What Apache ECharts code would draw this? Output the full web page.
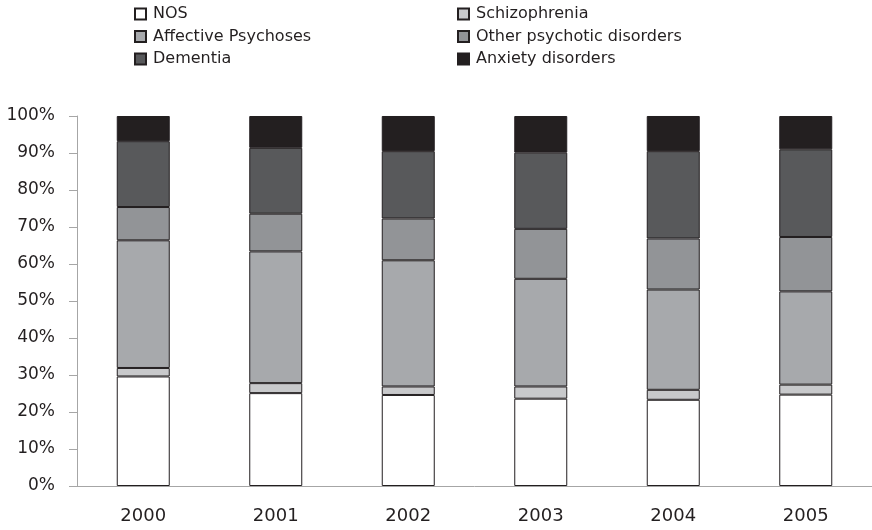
<!DOCTYPE html>
<html>
<head>
<meta charset="utf-8">
<script src="https://cdn.jsdelivr.net/npm/echarts@6/dist/echarts.min.js"></script>
<style>
  * { margin: 0; padding: 0; }
  #chart { width: 872px; height: 530px; background: #fff; }
</style>
</head>
<body>
<div id="chart"></div>
<script>
const years = ["2000", "2001", "2002", "2003", "2004", "2005"];
const nos = [29.6, 25.1, 24.6, 23.6, 23.3, 24.7];
const schizophrenia = [2.3, 2.7, 2.3, 3.3, 2.7, 2.7];
const affective = [34.5, 35.6, 34.1, 29.1, 27.1, 25.2];
const otherPsychotic = [9.0, 10.2, 11.3, 13.5, 13.8, 14.7];
const dementia = [17.8, 17.8, 18.2, 20.6, 23.6, 23.7];
const anxiety = [6.8, 8.6, 9.5, 9.9, 9.5, 9.0];

const font = "DejaVu Sans";
const edge = "#231f20";

const seriesDefs = [
  { name: "NOS", data: nos, color: "#ffffff" },
  { name: "Schizophrenia", data: schizophrenia, color: "#c8c9cb" },
  { name: "Affective Psychoses", data: affective, color: "#a7a9ac" },
  { name: "Other psychotic disorders", data: otherPsychotic, color: "#929497" },
  { name: "Dementia", data: dementia, color: "#58595b" },
  { name: "Anxiety disorders", data: anxiety, color: "#231f20" },
];

const myChart = echarts.init(document.getElementById("chart"), null, { renderer: "canvas" });

const legendBase = {
  orient: "vertical",
  top: 4,
  padding: 0,
  icon: "rect",
  itemWidth: 11,
  itemHeight: 11,
  itemGap: 2.5,
  selectedMode: false,
  textStyle: { fontFamily: font, fontSize: 16, color: edge, lineHeight: 20, padding: [0, 0, 0, 2] },
};

const option = {
  animation: false,
  legend: [
    Object.assign({}, legendBase, { left: 134, data: ["NOS", "Affective Psychoses", "Dementia"] }),
    Object.assign({}, legendBase, { left: 457, data: ["Schizophrenia", "Other psychotic disorders", "Anxiety disorders"] }),
  ],
  grid: { left: 77, top: 116, bottom: 44, width: 800 },
  xAxis: {
    type: "category",
    data: years,
    axisLine: { lineStyle: { color: "#a6a6a6" } },
    axisTick: { length: 7, lineStyle: { color: "#a6a6a6" } },
    axisLabel: { fontFamily: font, fontSize: 18, color: edge, margin: 21 },
  },
  yAxis: {
    type: "value",
    min: 0,
    max: 100,
    interval: 10,
    axisLine: { show: true, lineStyle: { color: "#a6a6a6" } },
    axisTick: { show: true, length: 8, lineStyle: { color: "#a6a6a6" } },
    splitLine: { show: false },
    axisLabel: { fontFamily: font, fontSize: 17, color: edge, margin: 22, formatter: "{value}%" },
  },
  series: seriesDefs.map((s) => ({
    name: s.name,
    type: "bar",
    stack: "total",
    barWidth: 53,
    data: s.data,
    itemStyle: { color: s.color, borderColor: edge, borderWidth: 1 },
  })),
};

myChart.setOption(option);
</script>
</body>
</html>
